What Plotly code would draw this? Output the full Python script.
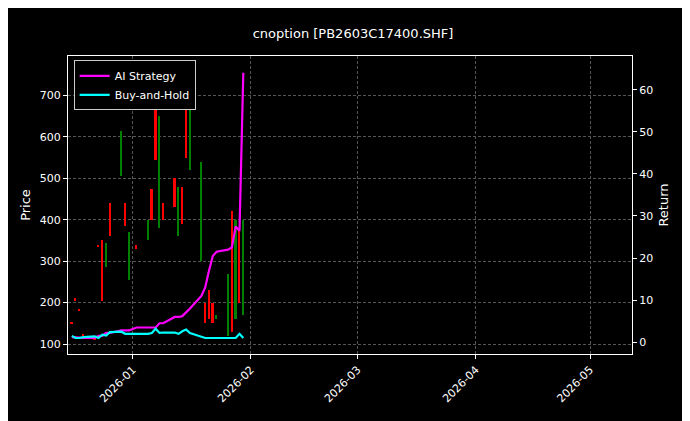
import plotly.graph_objects as go

dates = ["2025-12-16", "2025-12-17", "2025-12-18", "2025-12-19", "2025-12-22", "2025-12-23",
         "2025-12-24", "2025-12-25", "2025-12-26", "2025-12-29", "2025-12-30", "2025-12-31",
         "2026-01-02", "2026-01-05", "2026-01-06", "2026-01-07", "2026-01-08", "2026-01-09",
         "2026-01-12", "2026-01-13", "2026-01-14", "2026-01-15", "2026-01-16", "2026-01-19",
         "2026-01-20", "2026-01-21", "2026-01-22", "2026-01-23", "2026-01-26", "2026-01-27",
         "2026-01-28", "2026-01-29", "2026-01-30"]
open_ = [150, 205, 180, 120, 110, 335, 205, 345, 360, 615, 385, 370, 330, 400, 400, 545, 650,
         400, 430, 480, 390, 550, 700, 540, 150, 160, 150, 170, 270, 130, 400, 200, 400]
close = [152, 210, 182, 125, 115, 340, 350, 285, 440, 505, 440, 255, 340, 350, 475, 700, 380,
         440, 500, 360, 480, 700, 520, 300, 200, 230, 200, 160, 120, 420, 160, 380, 170]
ai_ret = [1.2, 1.2, 1.1, 1.0, 1.0, 1.5, 1.5, 2.2, 2.2, 2.8, 2.8, 2.8, 3.5, 3.5, 3.5, 3.5, 4.5,
          4.5, 6.0, 6.0, 6.2, 7.0, 8.0, 11.0, 13.0, 17.0, 20.5, 21.5, 22.0, 22.5, 27.5, 26.5, 64.0]
bh_ret = [1.5, 1.0, 1.0, 1.2, 1.4, 1.0, 1.8, 1.6, 2.4, 2.5, 2.0, 2.0, 2.0, 2.0, 2.2, 3.2, 2.2,
          2.3, 2.3, 2.0, 2.6, 3.0, 2.2, 1.3, 1.0, 1.0, 1.0, 1.0, 1.0, 1.0, 1.0, 2.0, 1.0]

base = [min(o, c) for o, c in zip(open_, close)]
body = [max(abs(c - o), 3) for o, c in zip(open_, close)]
colors = ["red" if c >= o else "green" for o, c in zip(open_, close)]

fig = go.Figure()
fig.add_trace(go.Bar(x=dates, y=body, base=base, marker=dict(color=colors, line_width=0),
                     width=0.45 * 86400000, showlegend=False, name="price"))
fig.add_trace(go.Scatter(x=dates, y=ai_ret, yaxis="y2", mode="lines",
                         line=dict(color="#ff00ff", width=2.2), name="AI Strategy"))
fig.add_trace(go.Scatter(x=dates, y=bh_ret, yaxis="y2", mode="lines",
                         line=dict(color="#00ffff", width=2.2), name="Buy-and-Hold"))

grid = dict(showgrid=True, gridcolor="#555", griddash="3px,2px", gridwidth=0.5,
            showline=True, linecolor="white", mirror=True, ticks="outside",
            tickcolor="white", ticklen=4, zeroline=False)
fig.update_layout(
    width=690, height=421,
    paper_bgcolor="black", plot_bgcolor="black",
    font=dict(family="DejaVu Sans", color="white", size=11),
    title=dict(text="cnoption [PB2603C17400.SHF]", x=0.5, xanchor="center", y=0.95, font=dict(size=13)),
    margin=dict(l=60, r=66, t=48, b=75),
    xaxis=dict(**grid, range=["2025-12-15", "2026-05-12"],
               tickformat="%Y-%m", tickangle=-45,
               tickvals=["2026-01-01", "2026-02-01", "2026-03-01", "2026-04-01", "2026-05-01"]),
    yaxis=dict(**grid, title=dict(text="Price", standoff=6), range=[76, 795], dtick=100),
    yaxis2=dict(overlaying="y", side="right", range=[-2.8, 68], dtick=10, showgrid=False,
                ticks="outside", tickcolor="white", ticklen=4, zeroline=False,
                title=dict(text="Return", standoff=6)),
    legend=dict(x=0.01, y=0.985, xanchor="left", yanchor="top", bgcolor="black",
                bordercolor="#ccc", borderwidth=1, font=dict(size=11)),
    bargap=0,
)
fig.write_html("out.html")
